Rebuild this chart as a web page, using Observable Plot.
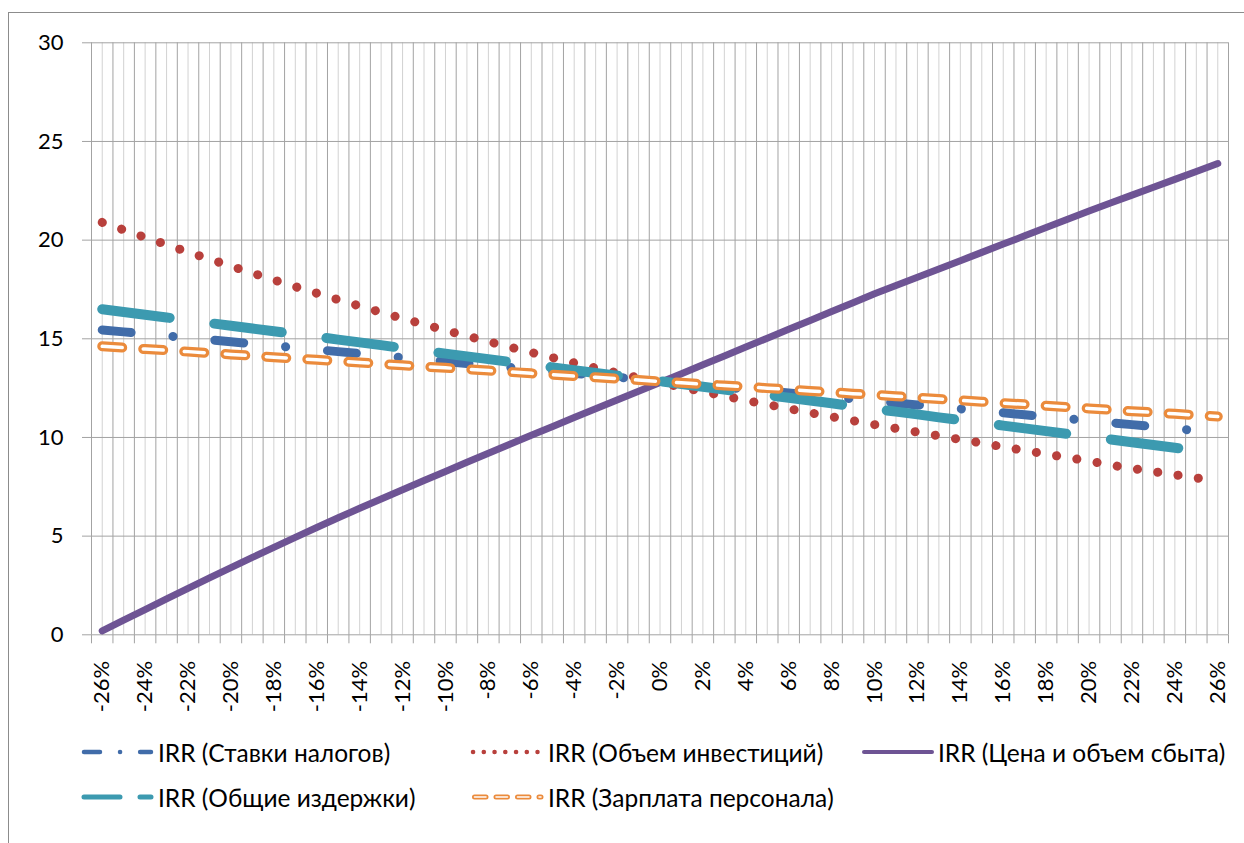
<!DOCTYPE html>
<html lang="ru">
<head>
<meta charset="utf-8">
<title>IRR — анализ чувствительности</title>
<script src="https://cdn.jsdelivr.net/npm/d3@7"></script>
<script src="https://cdn.jsdelivr.net/npm/@observablehq/plot@0.6"></script>
<style>
  html, body { margin: 0; padding: 0; background: #fff; }
  body { font-family: Lato, "Noto Sans", sans-serif; color: #000; }
  #page { position: relative; width: 1244px; height: 843px; overflow: hidden; }
  #frame { position: absolute; left: 8px; top: 12px; width: 1236px; height: 831px;
           border-top: 1.5px solid #8c8c8c; border-left: 1.5px solid #8c8c8c; box-sizing: border-box; }
  #chart { position: absolute; left: 0; top: 0; }
  .item { position: absolute; height: 30px; display: flex; align-items: center; white-space: nowrap; }
  .item svg { display: block; flex: none; }
  .item span { font-size: 24.5px; margin-left: 2px; }
</style>
</head>
<body>
<div id="page">
  <div id="frame"></div>
  <div id="chart"></div>
  <div id="legend"></div>
</div>
<script>
// Change of each factor, %
const categories = [-26,-25,-24,-23,-22,-21,-20,-19,-18,-17,-16,-15,-14,-13,-12,-11,-10,-9,-8,-7,-6,-5,-4,-3,-2,-1,
  0,1,2,3,4,5,6,7,8,9,10,11,12,13,14,15,16,17,18,19,20,21,22,23,24,25,26];

// Labelled categories on the horizontal axis
const labelledCategories = [-26,-24,-22,-20,-18,-16,-14,-12,-10,-8,-6,-4,-2,0,2,4,6,8,10,12,14,16,18,20,22,24,26];
const yTicks = [0, 5, 10, 15, 20, 25, 30];

// IRR, % for each series
const taxRates = [15.45,15.35,15.25,15.15,15.05,14.95,14.85,14.75,14.65,14.55,14.45,14.35,14.25,14.15,14.05,13.95,13.85,13.75,13.65,13.55,13.45,13.35,13.25,13.15,13.05,12.95,
  12.85,12.75,12.65,12.55,12.45,12.35,12.25,12.15,12.05,11.95,11.85,11.75,11.65,11.55,11.45,11.35,11.25,11.15,11.05,10.95,10.85,10.75,10.65,10.55,10.45,10.35,10.25];
const investment = [20.9,20.52,20.14,19.77,19.4,19.04,18.68,18.33,17.98,17.64,17.31,16.98,16.66,16.34,16.03,15.73,15.43,15.14,14.86,14.58,14.31,14.04,13.78,13.52,13.27,13.02,
  12.78,12.55,12.32,12.1,11.88,11.67,11.46,11.25,11.05,10.85,10.65,10.46,10.27,10.08,9.9,9.72,9.52,9.34,9.16,8.98,8.81,8.6,8.43,8.27,8.11,7.95,7.79];
const priceVolume = [0.2,0.74,1.28,1.82,2.35,2.88,3.4,3.92,4.43,4.94,5.44,5.93,6.41,6.88,7.35,7.82,8.28,8.74,9.2,9.66,10.11,10.56,11.01,11.45,11.9,12.34,
  12.78,13.23,13.68,14.13,14.58,15.03,15.48,15.93,16.38,16.83,17.28,17.7,18.12,18.54,18.96,19.38,19.8,20.22,20.64,21.06,21.48,21.88,22.28,22.68,23.08,23.48,23.88];
const totalCosts = [16.5,16.36,16.22,16.08,15.94,15.8,15.66,15.52,15.38,15.24,15.1,14.96,14.82,14.68,14.53,14.39,14.25,14.11,13.97,13.83,13.69,13.55,13.41,13.27,13.13,12.99,
  12.85,12.71,12.57,12.43,12.29,12.15,12.01,11.87,11.73,11.59,11.45,11.31,11.17,11.02,10.88,10.74,10.6,10.46,10.32,10.18,10.04,9.9,9.76,9.62,9.48,9.34,9.2];
const salary = [14.62,14.55,14.48,14.42,14.35,14.28,14.21,14.14,14.07,14.0,13.94,13.87,13.8,13.73,13.66,13.59,13.53,13.46,13.39,13.32,13.25,13.18,13.11,13.05,12.98,12.91,
  12.84,12.77,12.7,12.63,12.57,12.5,12.43,12.36,12.29,12.22,12.16,12.09,12.02,11.95,11.88,11.81,11.74,11.68,11.61,11.54,11.47,11.4,11.33,11.27,11.2,11.13,11.06];

const seriesNames = ["IRR (Ставки налогов)", "IRR (Объем инвестиций)", "IRR (Цена и объем сбыта)",
                     "IRR (Общие издержки)", "IRR (Зарплата персонала)"];
const colors = {tax: "#416ca9", inv: "#b8403c", price: "#6e5494", costs: "#3c9ab0", salary: "#eb8b3c"};

const rows = values => categories.map((c, i) => ({c, v: values[i]}));
const boundaries = d3.range(categories[0] - 0.5, categories[categories.length - 1] + 1, 1);
const font = "Lato, 'Noto Sans', sans-serif";

const chart = Plot.plot({
  width: 1244,
  height: 725,
  marginLeft: 91,
  marginRight: 16,
  marginTop: 42.3,
  marginBottom: 90.7,
  style: {background: "transparent", fontFamily: font, overflow: "visible"},
  x: {domain: [-26.5, 26.5], axis: null},
  y: {domain: [0, 30], axis: null},
  marks: [
    // minor gridlines at category centres, major at category boundaries
    Plot.ruleX(categories, {y1: 0, y2: 30, stroke: "#d2d2d2", strokeWidth: 1}),
    Plot.ruleX(boundaries, {y1: 0, y2: 30, stroke: "#a3a3a3", strokeWidth: 1}),
    Plot.ruleY(yTicks, {stroke: "#a3a3a3", strokeWidth: 1}),
    Plot.axisY({ticks: yTicks, tickSize: 9, tickPadding: 19, stroke: "#a3a3a3", fill: "#000",
                fontSize: 22, fontFamily: font, label: null}),
    Plot.axisX({ticks: boundaries, tickSize: 9, tickFormat: () => "", stroke: "#a3a3a3", label: null}),
    Plot.text(labelledCategories, {x: d => d, y: 0, dy: 26, rotate: -90, textAnchor: "end",
                text: d => d + "%", fontSize: 22, fontFamily: font, fill: "#000"}),
    // series, in drawing order
    Plot.line(rows(taxRates), {x: "c", y: "v", stroke: colors.tax, strokeWidth: 9,
                strokeLinecap: "round", strokeLinejoin: "round", strokeDasharray: "29 42 0.1 42"}),
    Plot.line(rows(investment), {x: "c", y: "v", stroke: colors.inv, strokeWidth: 9,
                strokeLinecap: "round", strokeDasharray: "0.1 20.4"}),
    Plot.line(rows(priceVolume), {x: "c", y: "v", stroke: colors.price, strokeWidth: 7,
                strokeLinecap: "round", strokeLinejoin: "round"}),
    Plot.line(rows(totalCosts), {x: "c", y: "v", stroke: colors.costs, strokeWidth: 10,
                strokeLinecap: "round", strokeLinejoin: "round", strokeDasharray: "68 45"}),
    Plot.line(rows(salary), {x: "c", y: "v", stroke: colors.salary, strokeWidth: 10,
                strokeLinecap: "round", strokeLinejoin: "round", strokeDasharray: "20 21.1"}),
    Plot.line(rows(salary), {x: "c", y: "v", stroke: "#fff", strokeWidth: 3.5,
                strokeLinecap: "round", strokeLinejoin: "round", strokeDasharray: "20 21.1"})
  ]
});
document.getElementById("chart").append(chart);

// Legend below the plot
const swatches = [
  {left: 80, top: 752, w: 76, name: seriesNames[0], draw: s => line(s, 4, 71, colors.tax, 4.5, "16 20 0.1 20")},
  {left: 470, top: 752, w: 76, name: seriesNames[1], draw: s => line(s, 3, 67.5, colors.inv, 4.5, "0.1 10.65")},
  {left: 858, top: 752, w: 78, name: seriesNames[2], draw: s => line(s, 6, 74, colors.price, 4, null)},
  {left: 80, top: 797, w: 76, name: seriesNames[3], draw: s => line(s, 4, 71, colors.costs, 5, "36 20")},
  {left: 470, top: 797, w: 76, name: seriesNames[4], draw: s => {
      line(s, 4.5, 71, colors.salary, 5, "11.5 10");
      line(s, 4.5, 71, "#fff", 1.6, "11.5 10");
  }}
];
function line(svg, x1, x2, color, width, dash) {
  const l = document.createElementNS("http://www.w3.org/2000/svg", "line");
  l.setAttribute("x1", x1); l.setAttribute("x2", x2);
  l.setAttribute("y1", 10); l.setAttribute("y2", 10);
  l.setAttribute("stroke", color); l.setAttribute("stroke-width", width);
  l.setAttribute("stroke-linecap", "round");
  if (dash) l.setAttribute("stroke-dasharray", dash);
  svg.append(l);
}
const legend = document.getElementById("legend");
for (const s of swatches) {
  const item = document.createElement("div");
  item.className = "item";
  item.style.left = s.left + "px";
  item.style.top = (s.top - 15) + "px";
  const svg = document.createElementNS("http://www.w3.org/2000/svg", "svg");
  svg.setAttribute("width", s.w); svg.setAttribute("height", 20);
  s.draw(svg);
  const label = document.createElement("span");
  label.textContent = s.name;
  item.append(svg, label);
  legend.append(item);
}
</script>
</body>
</html>
